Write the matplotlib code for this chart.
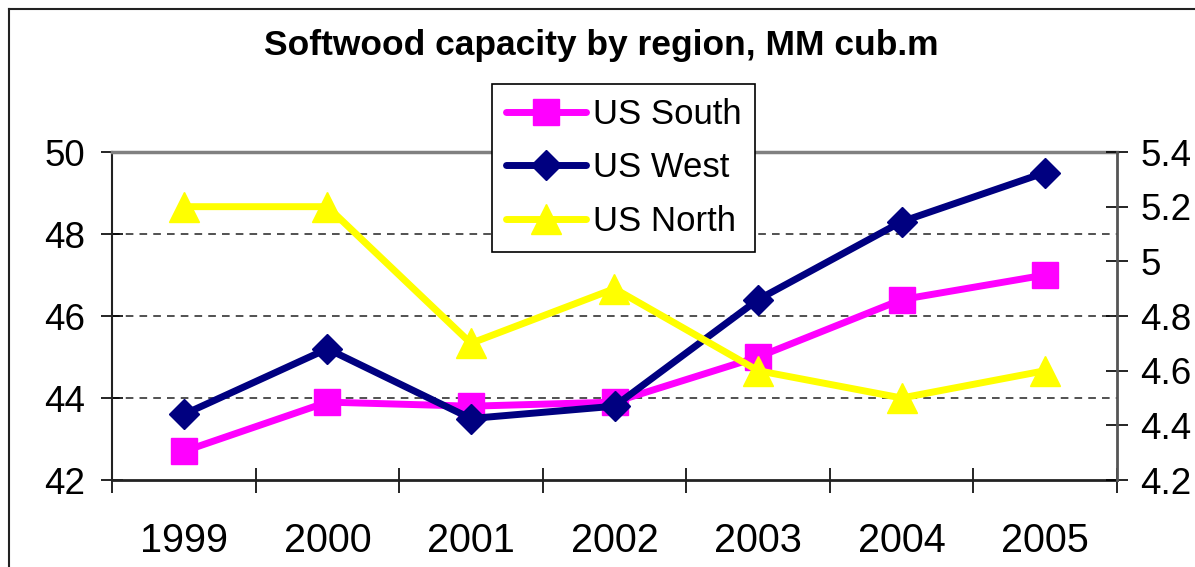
import matplotlib.pyplot as plt
from matplotlib.lines import Line2D
from matplotlib.ticker import FormatStrFormatter, FuncFormatter

plt.rcParams['font.family'] = ['Liberation Sans', 'DejaVu Sans']

# data
years = ['1999', '2000', '2001', '2002', '2003', '2004', '2005']
us_south = [42.7, 43.9, 43.8, 43.9, 45.0, 46.4, 47.0]
us_west = [43.6, 45.2, 43.5, 43.8, 46.4, 48.3, 49.5]
us_north = [5.2, 5.2, 4.7, 4.9, 4.6, 4.5, 4.6]   # right axis

left_ticks = [42, 44, 46, 48, 50]
right_ticks = [4.2, 4.4, 4.6, 4.8, 5.0, 5.2, 5.4]

W, H = 1195, 567
fig = plt.figure(figsize=(W / 100, H / 100), dpi=100)
fig.patch.set_facecolor('white')

# chart frame (runs off the right and bottom edge in the reference)
fig.add_artist(Line2D([9 / W, 9 / W], [0, 1 - 9 / H], color='#222222', lw=1.5))
fig.add_artist(Line2D([9 / W, 1], [1 - 9 / H, 1 - 9 / H], color='#222222', lw=1.5))

x0, x1, y0, y1 = 112, 1117, 152, 480
ax = fig.add_axes([x0 / W, 1 - y1 / H, (x1 - x0) / W, (y1 - y0) / H])
ax2 = ax.twinx()

x = list(range(len(years)))

ax.plot(x, us_south, color='#FF00FF', lw=5, marker='s', ms=19,
        mec='#FF00FF', solid_capstyle='round', label='US South', zorder=3)
ax.plot(x, us_west, color='#000080', lw=5, marker='D', ms=15,
        mec='#000080', solid_capstyle='round', label='US West', zorder=4)
ax2.plot(x, us_north, color='#FFFF00', lw=5, marker='^', ms=21,
         mec='#FFFF00', solid_capstyle='round', label='US North', zorder=3)

ax.set_xlim(-0.5, len(years) - 0.5)
ax.set_ylim(42, 50)
ax2.set_ylim(4.2, 5.4)

ax.set_yticks(left_ticks)
ax.yaxis.set_major_formatter(FormatStrFormatter('%g'))
ax2.set_yticks(right_ticks)
ax2.yaxis.set_major_formatter(FuncFormatter(lambda v, p: '%g' % round(v, 1)))

ax.set_xticks(x)
ax.set_xticklabels(years)
ax.set_xticks([i - 0.5 for i in range(len(years) + 1)], minor=True)
ax.tick_params(axis='x', which='major', length=0, pad=30, labelsize=28.5)
ax.tick_params(axis='x', which='minor', length=18, direction='inout', width=1.2)
ax.tick_params(axis='y', length=16, direction='inout', width=1.2, pad=11, labelsize=26.5)
ax2.tick_params(axis='y', length=16, direction='inout', width=1.2, pad=9,
                labelsize=26.5, colors='black')

# dashed gridlines at the inner left-axis ticks
for v in left_ticks[1:-1]:
    ax.axhline(v, color='#222222', lw=1.1, dashes=(5, 4), zorder=1)

for s in ['top', 'right', 'left', 'bottom']:
    ax2.spines[s].set_visible(False)
ax.spines['top'].set_color('#808080')
ax.spines['top'].set_linewidth(2.5)
ax.spines['right'].set_visible(False)
ax2.spines['right'].set_visible(True)
ax2.spines['right'].set_color('#555555')
ax2.spines['right'].set_linewidth(2)
ax.spines['left'].set_color('#222222')
ax.spines['left'].set_linewidth(1.5)
ax.spines['bottom'].set_color('#222222')
ax.spines['bottom'].set_linewidth(2)

fig.text(601 / W, 1 - 55 / H, 'Softwood capacity by region, MM cub.m',
         ha='center', va='baseline', fontsize=25.5, fontweight='bold')

h1, l1 = ax.get_legend_handles_labels()
h2, l2 = ax2.get_legend_handles_labels()
leg = fig.legend(h1 + h2, l1 + l2, loc='upper left',
                 bbox_to_anchor=(492 / W, 1 - 84 / H), borderaxespad=0,
                 fontsize=25, frameon=True, fancybox=False, edgecolor='black',
                 framealpha=1, handlelength=2.3, handletextpad=0.2,
                 labelspacing=0.59, borderpad=0.4, markerscale=1.0)
leg.get_frame().set_linewidth(1.2)
leg.set_zorder(10)

fig.savefig('out.png', dpi=100, facecolor='white')
